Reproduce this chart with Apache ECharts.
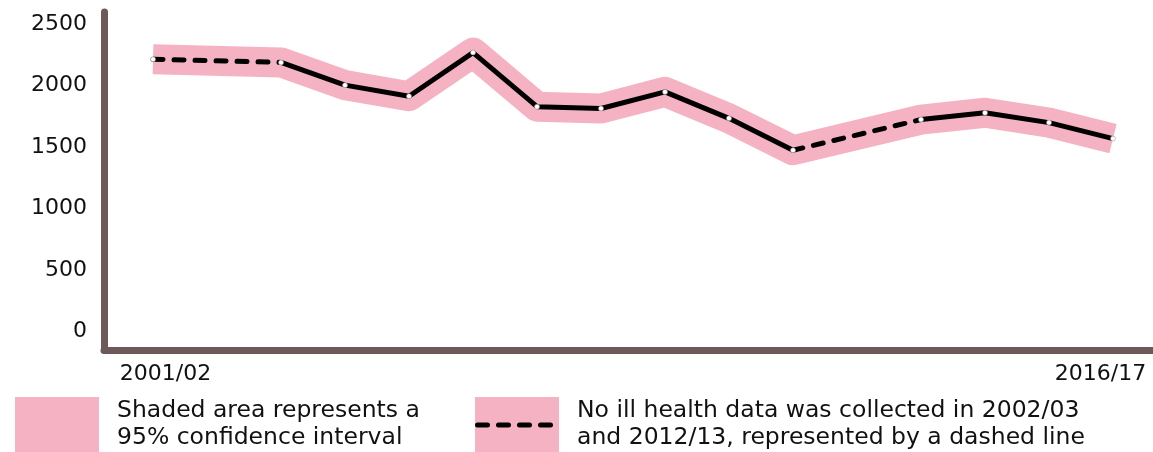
<!DOCTYPE html>
<html>
<head>
<meta charset="utf-8">
<script src="https://cdn.jsdelivr.net/npm/echarts@6/dist/echarts.min.js"></script>
<style>
  html, body { margin: 0; padding: 0; background: #fff; }
  #chart { width: 1153px; height: 452px; }
</style>
</head>
<body>
<div id="chart"></div>
<script>
// data (null = no data collected that year)
const years = ['2001/02', '2002/03', '2003/04', '2004/05', '2005/06', '2006/07', '2007/08', '2008/09',
  '2009/10', '2010/11', '2011/12', '2012/13', '2013/14', '2014/15', '2015/16', '2016/17'];
const cases = [2215, null, 2190, 2005, 1915, 2270, 1830, 1815, 1950, 1735, 1475, null, 1725, 1780, 1700, 1570];
const yTicks = [0, 500, 1000, 1500, 2000, 2500];
const xTickIndex = [0, 15];

const PINK = '#f5b2c3';
const AXIS = '#6e5959';
const FONT = 'DejaVu Sans';

const chart = echarts.init(document.getElementById('chart'));

const points = cases.map((v, i) => [i, v == null ? '-' : v]);

// one dashed piece per missing year, joining its two neighbours
const dashed = [];
cases.forEach((v, i) => {
  if (v == null) {
    dashed.push({
      type: 'line',
      data: [[i - 1, cases[i - 1]], [i + 1, cases[i + 1]]],
      symbol: 'none',
      lineStyle: { color: '#000', width: 5, type: [10, 11], cap: 'round' },
      z: 3
    });
  }
});

const option = {
  animation: false,
  backgroundColor: '#fff',
  grid: { left: 104, right: 0, top: 12, bottom: 102 },
  xAxis: {
    type: 'value',
    min: -0.766,
    max: 15.625,
    splitLine: { show: false },
    axisTick: { show: false },
    axisLine: { onZero: false, lineStyle: { color: AXIS, width: 7, cap: 'round' } },
    axisLabel: {
      customValues: xTickIndex,
      margin: 13,
      color: '#111',
      fontFamily: FONT,
      fontSize: 22,
      formatter: (v) => v === 0 ? '{l|' + years[v] + '}' : '{r|' + years[v] + '}',
      rich: {
        l: { fontFamily: FONT, fontSize: 22, color: '#111', padding: [0, 0, 0, 25] },
        r: { fontFamily: FONT, fontSize: 22, color: '#111', padding: [0, 25, 0, 0] }
      }
    }
  },
  yAxis: {
    type: 'value',
    min: -150,
    max: 2600,
    splitLine: { show: false },
    axisTick: { show: false },
    axisLine: { show: true, onZero: false, lineStyle: { color: AXIS, width: 7, cap: 'round' } },
    axisLabel: {
      customValues: yTicks,
      margin: 17,
      color: '#111',
      fontFamily: FONT,
      fontSize: 22,
      formatter: (v) => String(v)
    }
  },
  series: [
    {
      type: 'line',
      data: points,
      connectNulls: true,
      symbol: 'none',
      lineStyle: { color: PINK, width: 30, cap: 'butt', join: 'round' },
      z: 1
    },
    ...dashed,
    {
      type: 'line',
      data: points,
      connectNulls: false,
      symbol: 'circle',
      symbolSize: 5,
      showAllSymbol: true,
      itemStyle: { color: '#fff', borderColor: '#888', borderWidth: 0.5 },
      lineStyle: { color: '#000', width: 5, join: 'round' },
      z: 4
    }
  ],
  graphic: [
    { type: 'rect', shape: { x: 15, y: 397, width: 84, height: 60 }, style: { fill: PINK } },
    {
      type: 'text', x: 117, y: 397,
      style: {
        text: 'Shaded area represents a\n95% confidence interval',
        font: '23.5px "' + FONT + '"', fill: '#111', lineHeight: 27, verticalAlign: 'top'
      }
    },
    { type: 'rect', shape: { x: 475, y: 397, width: 84, height: 60 }, style: { fill: PINK } },
    {
      type: 'line', shape: { x1: 477.5, y1: 425, x2: 557, y2: 425 },
      style: { stroke: '#000', lineWidth: 5, lineDash: [10, 11], lineCap: 'round' }
    },
    {
      type: 'text', x: 577, y: 397,
      style: {
        text: 'No ill health data was collected in 2002/03\nand 2012/13, represented by a dashed line',
        font: '23.5px "' + FONT + '"', fill: '#111', lineHeight: 27, verticalAlign: 'top'
      }
    }
  ]
};

chart.setOption(option);
</script>
</body>
</html>
